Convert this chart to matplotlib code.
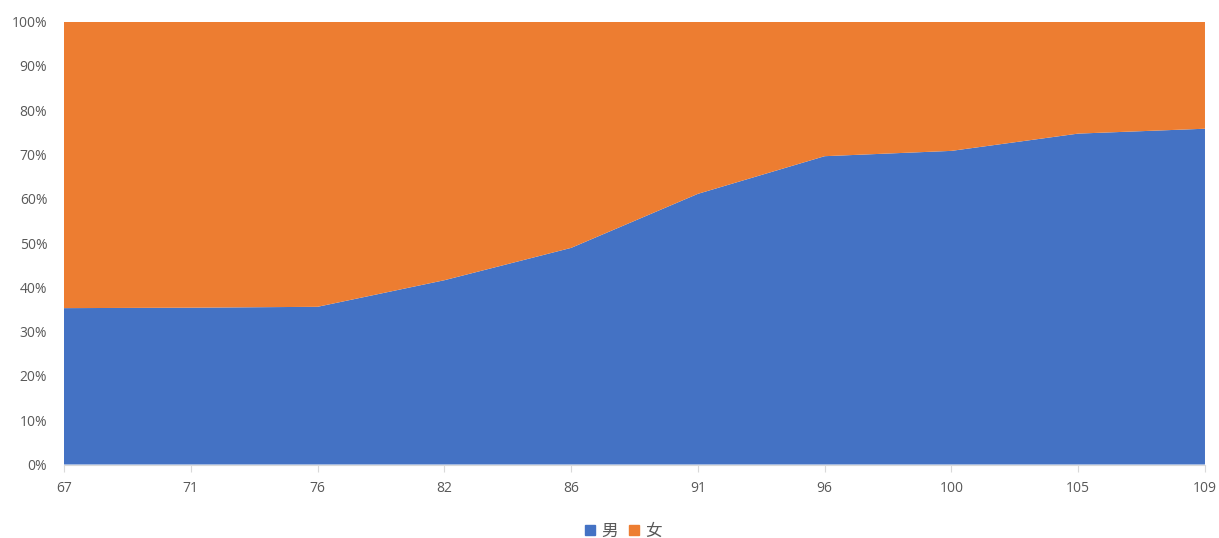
import matplotlib.pyplot as plt
import numpy as np
from matplotlib.patches import Patch
from matplotlib.ticker import PercentFormatter

plt.rcParams['font.family'] = ['Noto Sans CJK SC', 'DejaVu Sans']

# 年龄段与男女占比（%）
ages = ['67', '71', '76', '82', '86', '91', '96', '100', '105', '109']
male = [35.3, 35.4, 35.6, 41.6, 48.9, 61.1, 69.6, 70.8, 74.7, 75.8]
female = [100 - m for m in male]

blue = '#4472C4'
orange = '#ED7D31'
grey = '#595959'

fig = plt.figure(figsize=(12.19, 5.38), dpi=100)
ax = fig.add_axes([0.0525, 0.1366, 0.936, 0.8234])

x = np.arange(len(ages))
ax.stackplot(x, male, female, colors=[blue, orange], linewidth=0)

ax.set_xlim(0, len(ages) - 1)
ax.set_ylim(0, 100)
ax.set_xticks(x)
ax.set_xticklabels(ages)
ax.set_yticks(np.arange(0, 101, 10))
ax.yaxis.set_major_formatter(PercentFormatter(decimals=0))

for s in ['top', 'right', 'left']:
    ax.spines[s].set_visible(False)
ax.spines['bottom'].set_color('#D9D9D9')
ax.tick_params(axis='x', colors='#D9D9D9', labelcolor=grey, length=5, pad=7)
ax.tick_params(axis='y', length=0, labelcolor=grey, pad=12)
for lab in ax.get_xticklabels() + ax.get_yticklabels():
    lab.set_family('Open Sans')
    lab.set_fontsize(10)

handles = [Patch(color=blue, label='男'), Patch(color=orange, label='女')]
fig.legend(handles=handles, loc='center', bbox_to_anchor=(0.5115, 0.012),
           ncol=2, frameon=False, fontsize=12, handlelength=0.6, handleheight=0.6,
           handletextpad=0.35, columnspacing=0.7, labelcolor=grey)

fig.savefig('out.png', dpi=100)
